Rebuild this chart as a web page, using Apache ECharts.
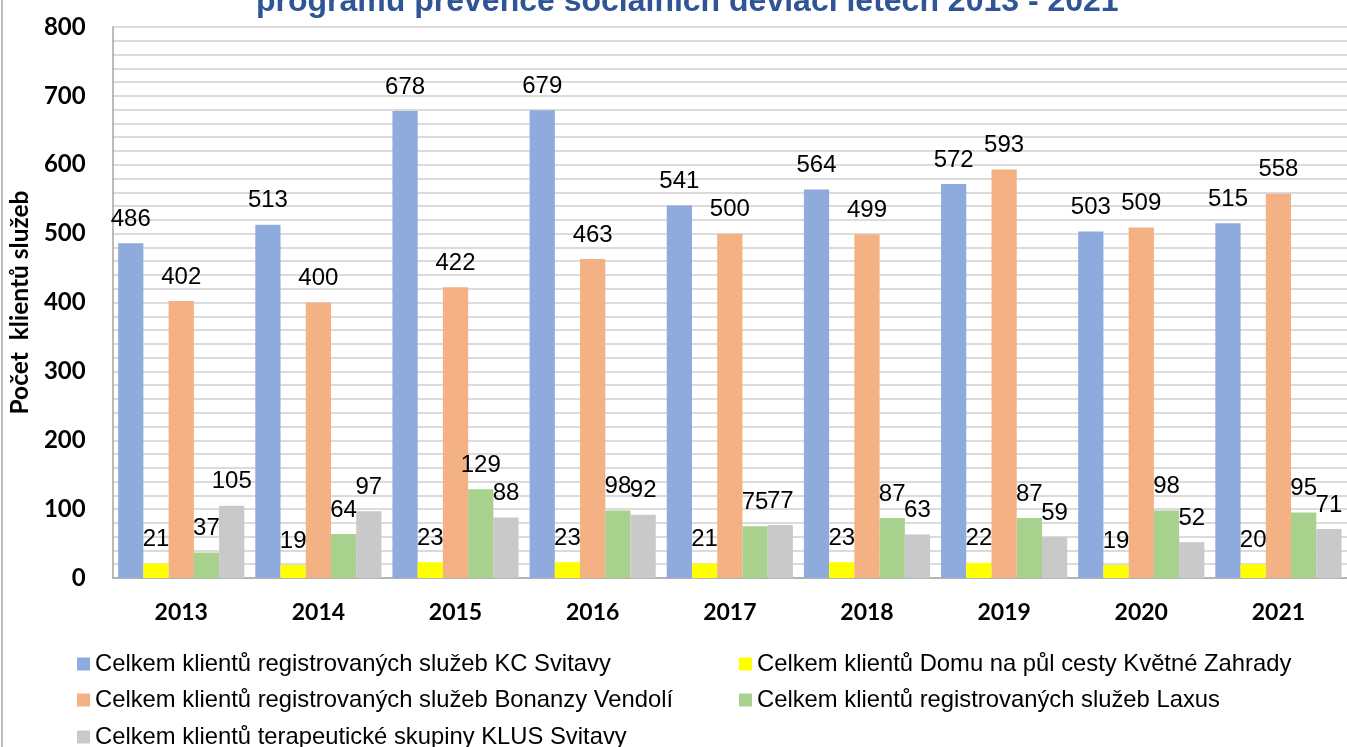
<!DOCTYPE html>
<html>
<head>
<meta charset="utf-8">
<script src="https://cdn.jsdelivr.net/npm/echarts@6/dist/echarts.min.js"></script>
<style>
html,body{margin:0;padding:0;background:#fff;}
#chart{width:1347px;height:747px;}
</style>
</head>
<body>
<div id="chart"></div>
<script>
const years = ['2013','2014','2015','2016','2017','2018','2019','2020','2021'];
const seriesNames = [
  'Celkem klientů registrovaných služeb KC Svitavy',
  'Celkem klientů Domu na půl cesty Květné Zahrady',
  'Celkem klientů registrovaných služeb Bonanzy Vendolí',
  'Celkem klientů registrovaných služeb Laxus',
  'Celkem klientů terapeutické skupiny KLUS Svitavy'
];
const kcSvitavy = [486, 513, 678, 679, 541, 564, 572, 503, 515];
const domuNaPulCesty = [21, 19, 23, 23, 21, 23, 22, 19, 20];
const bonanzyVendoli = [402, 400, 422, 463, 500, 499, 593, 509, 558];
const laxus = [37, 64, 129, 98, 75, 87, 87, 98, 95];
const klusSvitavy = [105, 97, 88, 92, 77, 63, 59, 52, 71];
const yTicks = [0, 100, 200, 300, 400, 500, 600, 700, 800];

const colors = ['#8FAADC', '#FFFF00', '#F4B183', '#A9D18E', '#C9C9C9'];
const allData = [kcSvitavy, domuNaPulCesty, bonanzyVendoli, laxus, klusSvitavy];

const chart = echarts.init(document.getElementById('chart'), null, {renderer: 'canvas'});

const legendText = {fontFamily: 'Liberation Sans', fontSize: 23.8, color: '#000'};
const legendPos = [
  {left: 77, top: 652},
  {left: 739, top: 652},
  {left: 77, top: 688},
  {left: 739, top: 688},
  {left: 77, top: 725}
];

const option = {
  animation: false,
  backgroundColor: '#fff',
  title: {
    text: 'programu prevence sociálních deviací letech 2013 - 2021',
    left: 251,
    top: -19,
    textStyle: {fontFamily: 'Liberation Sans', fontWeight: 'bold', fontSize: 32, color: '#2F5597'}
  },
  grid: {left: 112, top: 27, width: 1237.5, bottom: 169, containLabel: false},
  legend: seriesNames.map((n, i) => ({
    data: [n],
    left: legendPos[i].left, top: legendPos[i].top,
    padding: 0, itemGap: 0,
    itemWidth: 13, itemHeight: 13, icon: 'rect',
    textStyle: legendText
  })),
  xAxis: {
    type: 'category',
    data: years,
    axisLine: {show: true, lineStyle: {color: '#A6A6A6', width: 1.5}},
    axisTick: {show: false},
    axisLabel: {margin: 23, fontFamily: 'Lato', fontWeight: 'bold', fontSize: 23, color: '#000'}
  },
  yAxis: {
    type: 'value',
    min: 0, max: 800, interval: 100,
    name: 'Počet  klientů služeb',
    nameLocation: 'middle',
    nameGap: 77,
    nameRotate: 90,
    nameTextStyle: {fontFamily: 'Lato', fontWeight: 'bold', fontSize: 24.5, color: '#000'},
    axisLine: {show: true, lineStyle: {color: '#A6A6A6', width: 1.5}},
    axisTick: {show: false},
    axisLabel: {margin: 27, fontFamily: 'Lato', fontWeight: 'bold', fontSize: 24, color: '#000',
      customValues: yTicks},
    splitLine: {show: true, lineStyle: {color: '#D0D0D0', width: 1.5}},
    minorTick: {show: false, splitNumber: 5},
    minorSplitLine: {show: true, lineStyle: {color: '#D0D0D0', width: 1.5}}
  },
  graphic: [
    {type: 'line', shape: {x1: 2, y1: 0, x2: 2, y2: 747}, style: {stroke: '#A6A6A6', lineWidth: 1.5}}
  ],
  series: allData.map((d, i) => ({
    name: seriesNames[i],
    type: 'bar',
    data: d,
    barGap: '0%',
    barCategoryGap: '8%',
    itemStyle: {color: colors[i]},
    label: {
      show: true, position: 'top', distance: 12,
      fontFamily: 'Liberation Sans', fontSize: 24, color: '#000'
    }
  }))
};
chart.setOption(option);
</script>
</body>
</html>
